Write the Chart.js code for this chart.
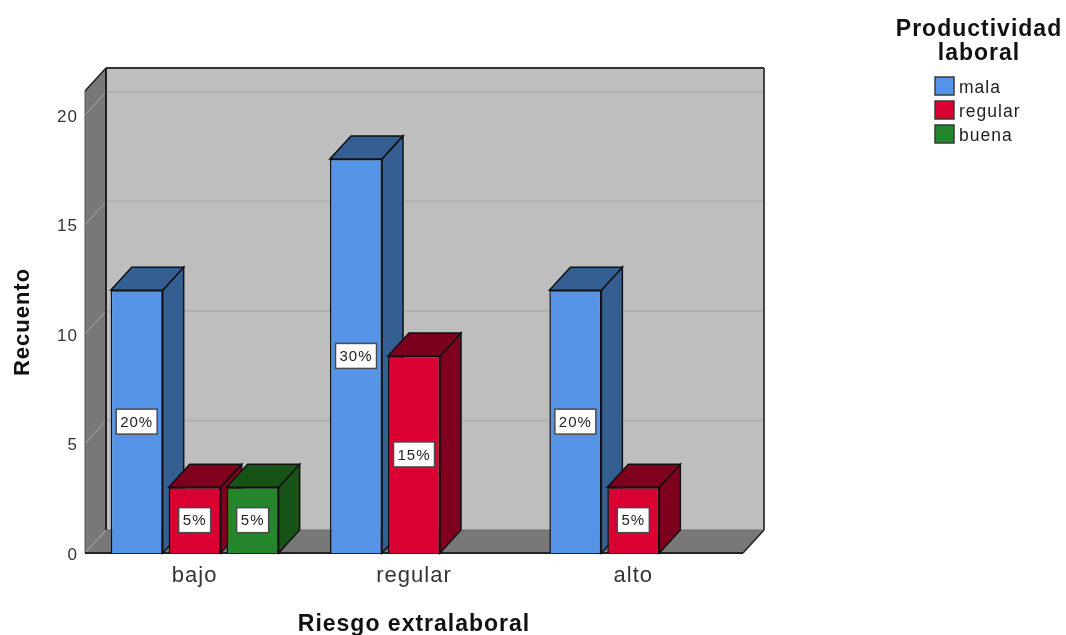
<!DOCTYPE html>
<html>
<head>
<meta charset="utf-8">
<title>Riesgo extralaboral</title>
<script src="https://cdn.jsdelivr.net/npm/chart.js@4/dist/chart.umd.min.js"></script>
<style>
  html, body { margin: 0; padding: 0; background: #fff; }
  canvas { display: block; }
</style>
</head>
<body>
<canvas id="chart" width="1066" height="635"></canvas>
<script>
const categories = ["bajo", "regular", "alto"];
const mala = [12, 18, 12];
const regular = [3, 9, 3];
const buena = [3, null, null];
const malaPct = ["20%", "30%", "20%"];
const regularPct = ["5%", "15%", "5%"];
const buenaPct = ["5%", null, null];
const yTicks = [0, 5, 10, 15, 20];
const seriesNames = ["mala", "regular", "buena"];
const legendTitle = ["Productividad", "laboral"];

const fontName = '"Liberation Sans", Arial, sans-serif';
const frontColors = ["#5594e6", "#db0032", "#25852a"];
const darkColors = ["#355f92", "#7d001f", "#175317"];
const percents = [malaPct, regularPct, buenaPct];

// depth of the fake 3d box
const depthX = 21;
const depthY = 23;

function poly(ctx, pts, fill, stroke, lineWidth) {
  ctx.beginPath();
  pts.forEach((p, i) => i ? ctx.lineTo(p[0], p[1]) : ctx.moveTo(p[0], p[1]));
  ctx.closePath();
  if (fill) { ctx.fillStyle = fill; ctx.fill(); }
  if (stroke) { ctx.strokeStyle = stroke; ctx.lineWidth = lineWidth || 1; ctx.stroke(); }
}

function line(ctx, x1, y1, x2, y2, color, width) {
  ctx.beginPath();
  ctx.moveTo(x1, y1);
  ctx.lineTo(x2, y2);
  ctx.strokeStyle = color;
  ctx.lineWidth = width;
  ctx.stroke();
}

const boxPlugin = {
  id: "box3d",
  beforeDraw(chart) {
    // the reference text is spaced wider than the plain font
    chart.ctx.letterSpacing = "1px";
  },
  beforeDatasetsDraw(chart) {
    const ctx = chart.ctx;
    const { left, right, top, bottom } = chart.chartArea;
    const y = chart.scales.y;
    ctx.save();

    // walls and floor
    poly(ctx, [[left + depthX, top - depthY], [right + depthX, top - depthY], [right + depthX, bottom - depthY], [left + depthX, bottom - depthY]], "#bebebe");
    poly(ctx, [[left, top], [left + depthX, top - depthY], [left + depthX, bottom - depthY], [left, bottom]], "#787878");
    poly(ctx, [[left, bottom], [left + depthX, bottom - depthY], [right + depthX, bottom - depthY], [right, bottom]], "#787878");

    // grid lines run over the left wall and then along the back
    yTicks.forEach(v => {
      const py = y.getPixelForValue(v);
      if (v > 0) line(ctx, left + depthX, py - depthY, right + depthX, py - depthY, "#b0b0b0", 2);
      line(ctx, left, py, left + depthX, py - depthY, "#a8a8a8", 1);
    });

    // box edges
    line(ctx, left, top, left, bottom, "#555", 1);
    line(ctx, left, top, left + depthX, top - depthY, "#222", 1.5);
    line(ctx, left + depthX, top - depthY, right + depthX, top - depthY, "#333", 2);
    line(ctx, left + depthX, top - depthY, left + depthX, bottom - depthY, "#222", 2);
    line(ctx, right + depthX, top - depthY, right + depthX, bottom - depthY, "#444", 2);
    line(ctx, left + depthX, bottom - depthY, right + depthX, bottom - depthY, "#6a6a6a", 1);
    line(ctx, right, bottom, right + depthX, bottom - depthY, "#222", 1.5);
    line(ctx, left, bottom, right, bottom, "#222", 2);

    // side and top of each bar, the library draws the fronts afterwards
    chart.data.datasets.forEach((ds, d) => {
      chart.getDatasetMeta(d).data.forEach((bar, i) => {
        if (ds.data[i] == null) return;
        const x0 = bar.x - bar.width / 2;
        const x1 = bar.x + bar.width / 2;
        const yt = bar.y;
        const yb = bar.base;
        poly(ctx, [[x1, yt], [x1 + depthX, yt - depthY], [x1 + depthX, yb - depthY], [x1, yb]], darkColors[d], "#111", 1.5);
        poly(ctx, [[x0, yt], [x0 + depthX, yt - depthY], [x1 + depthX, yt - depthY], [x1, yt]], darkColors[d], "#111", 1.5);
      });
    });
    ctx.restore();
  },
  afterDatasetsDraw(chart) {
    const ctx = chart.ctx;
    ctx.save();
    ctx.font = "15px " + fontName;
    ctx.textAlign = "center";
    ctx.textBaseline = "middle";
    chart.data.datasets.forEach((ds, d) => {
      chart.getDatasetMeta(d).data.forEach((bar, i) => {
        const txt = percents[d][i];
        if (!txt) return;
        const cy = (bar.y + bar.base) / 2;
        const w = Math.round(ctx.measureText(txt).width) + 8;
        const h = 25;
        ctx.fillStyle = "#fff";
        ctx.fillRect(bar.x - w / 2, cy - h / 2, w, h);
        ctx.strokeStyle = "#4a4a4a";
        ctx.lineWidth = 1.5;
        ctx.strokeRect(bar.x - w / 2, cy - h / 2, w, h);
        ctx.fillStyle = "#222";
        ctx.fillText(txt, bar.x, cy + 1);
      });
    });
    ctx.restore();
  },
  afterDraw(chart) {
    // legend sits right of the box, with a two line title
    const ctx = chart.ctx;
    ctx.save();
    ctx.fillStyle = "#111";
    ctx.textAlign = "center";
    ctx.textBaseline = "alphabetic";
    ctx.font = "bold 23px " + fontName;
    ctx.fillText(legendTitle[0], 979, 36);
    ctx.fillText(legendTitle[1], 979, 60);
    ctx.textAlign = "left";
    ctx.textBaseline = "middle";
    ctx.font = "17.5px " + fontName;
    seriesNames.forEach((name, i) => {
      const by = 77 + i * 24;
      ctx.fillStyle = frontColors[i];
      ctx.fillRect(935, by, 19, 18);
      ctx.strokeStyle = "#3a3a3a";
      ctx.lineWidth = 1.5;
      ctx.strokeRect(935, by, 19, 18);
      ctx.fillStyle = "#222";
      ctx.fillText(name, 959, by + 11);
    });
    ctx.restore();
  }
};

new Chart(document.getElementById("chart"), {
  type: "bar",
  data: {
    labels: categories,
    datasets: [
      { label: seriesNames[0], data: mala, backgroundColor: frontColors[0] },
      { label: seriesNames[1], data: regular, backgroundColor: frontColors[1] },
      { label: seriesNames[2], data: buena, backgroundColor: frontColors[2] }
    ]
  },
  options: {
    responsive: false,
    animation: false,
    layout: { padding: { top: 91, right: 323, left: 0, bottom: 0 } },
    datasets: {
      bar: {
        borderColor: "#111",
        borderWidth: 1.5,
        categoryPercentage: 0.793,
        barPercentage: 0.897
      }
    },
    plugins: {
      legend: { display: false },
      tooltip: { enabled: false }
    },
    scales: {
      x: {
        grid: { display: false },
        border: { display: false },
        ticks: { color: "#333", font: { family: fontName, size: 22 }, padding: 2, maxRotation: 0 },
        title: {
          display: true,
          text: "Riesgo extralaboral",
          color: "#111",
          font: { family: fontName, size: 23, weight: "bold" },
          padding: { top: 0, bottom: -3 }
        },
        afterFit(scale) { scale.height = 82; }
      },
      y: {
        min: 0,
        max: 21.1,
        grid: { display: false, tickLength: 7 },
        border: { display: false },
        ticks: { color: "#333", font: { family: fontName, size: 17 }, padding: 0, labelOffset: 2 },
        afterBuildTicks(scale) { scale.ticks = yTicks.map(v => ({ value: v })); },
        title: {
          display: true,
          text: "Recuento",
          color: "#111",
          font: { family: fontName, size: 22, weight: "bold" },
          padding: { top: 10, bottom: 0 }
        },
        afterFit(scale) { scale.width = 85; }
      }
    }
  },
  plugins: [boxPlugin]
});
</script>
</body>
</html>
